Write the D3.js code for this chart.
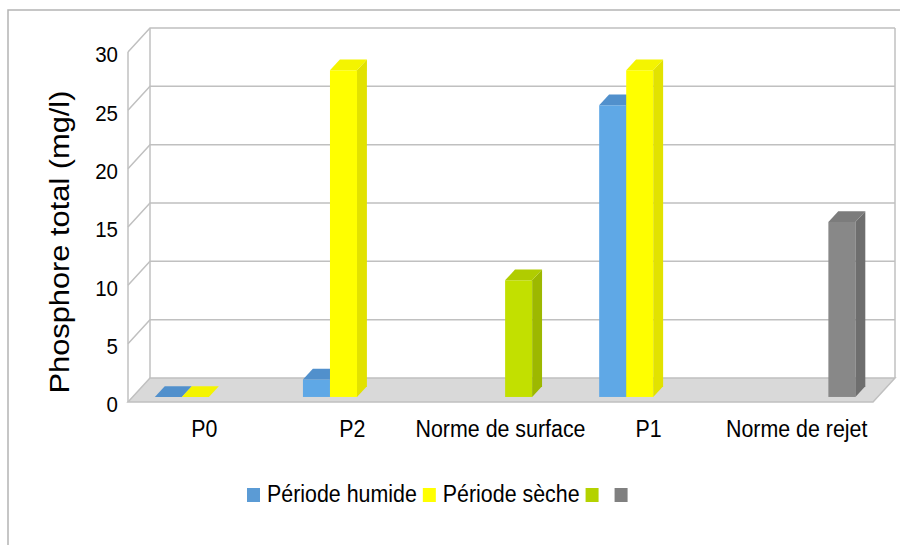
<!DOCTYPE html>
<html>
<head>
<meta charset="utf-8">
<script src="https://cdn.jsdelivr.net/npm/d3@7"></script>
<style>
  body { margin: 0; background: #fff; }
  svg text { font-family: "Liberation Sans", Arial, sans-serif; fill: #000; }
</style>
</head>
<body>
<div id="chart"></div>
<script>
let categories = ["P0", "P2", "Norme de surface", "P1", "Norme de rejet"];
let seriesNames = ["Période humide", "Période sèche", "", ""];
let humide = [0, 1.5, null, 25, null];
let seche = [0, 28, null, 28, null];
let normeSurface = [null, null, 10, null, null];
let normeRejet = [null, null, null, null, 15];
let yTicks = [0, 5, 10, 15, 20, 25, 30];

let seriesValues = [humide, seche, normeSurface, normeRejet];
let colors = [
    {front: "#5fa8e6", side: "#4b88c4", top: "#5190cc", legend: "#5b9bd5"},
    {front: "#ffff00", side: "#e2e200", top: "#f4f400", legend: "#ffff00"},
    {front: "#c2e000", side: "#9db800", top: "#b0cc00", legend: "#b4d200"},
    {front: "#888888", side: "#6e6e6e", top: "#7c7c7c", legend: "#808080"}
];

let width = 900, height = 545;
let depth = {x: 22, y: -24};
let barFront = 0.21, barBack = 0.66;
let stretch = 1.1;

let svg = d3.select("#chart").append("svg")
    .attr("width", width)
    .attr("height", height);

// outer frame
svg.append("path")
    .attr("d", "M8,545 L8,10 L900,10")
    .attr("fill", "none")
    .attr("stroke", "#b4b4b4")
    .attr("stroke-width", 1.5);

let x = d3.scaleBand().domain(categories)
    .range([128, 873])
    .paddingInner(0.27)
    .paddingOuter(0.15);
let xs = d3.scaleBand().domain(d3.range(4)).range([0, x.bandwidth()]);
let y = d3.scaleLinear().domain([0, 30]).range([402, 52]);

let x0 = x.range()[0], x1 = x.range()[1];
let gridColor = "#c0c0c0";

// floor
svg.append("polygon")
    .attr("points", [[x0, y(0)], [x1, y(0)], [x1 + depth.x, y(0) + depth.y], [x0 + depth.x, y(0) + depth.y]].join(" "))
    .attr("fill", "#d9d9d9")
    .attr("stroke", gridColor)
    .attr("stroke-width", 1.5);

// walls and gridlines
let grid = svg.append("g").attr("fill", "none").attr("stroke", gridColor).attr("stroke-width", 1.5);
yTicks.forEach(t => {
    if (t === 0) return;
    grid.append("path")
        .attr("d", "M" + x0 + "," + y(t) + " L" + (x0 + depth.x) + "," + (y(t) + depth.y) + " L" + (x1 + depth.x) + "," + (y(t) + depth.y));
});
grid.append("line").attr("x1", x0).attr("x2", x0).attr("y1", y(30)).attr("y2", y(0));
grid.append("line").attr("x1", x0 + depth.x).attr("x2", x0 + depth.x).attr("y1", y(30) + depth.y).attr("y2", y(0) + depth.y);
grid.append("line").attr("x1", x1 + depth.x).attr("x2", x1 + depth.x).attr("y1", y(30) + depth.y).attr("y2", y(0) + depth.y);

// bars
let bars = svg.append("g");
categories.forEach((c, ci) => {
    seriesValues.forEach((vals, si) => {
        let v = vals[ci];
        if (v === null) return;
        let bx = x(c) + xs(si) + depth.x * barFront;
        let bw = xs.bandwidth();
        let by0 = y(0) + depth.y * barFront;
        let by1 = y(v) + depth.y * barFront;
        let dx = depth.x * (barBack - barFront), dy = depth.y * (barBack - barFront);
        let col = colors[si];
        if (v > 0) {
            bars.append("rect")
                .attr("x", bx).attr("y", by1)
                .attr("width", bw).attr("height", by0 - by1)
                .attr("fill", col.front);
            bars.append("polygon")
                .attr("points", [[bx + bw, by0], [bx + bw, by1], [bx + bw + dx, by1 + dy], [bx + bw + dx, by0 + dy]].join(" "))
                .attr("fill", col.side);
        }
        bars.append("polygon")
            .attr("points", [[bx, by1], [bx + bw, by1], [bx + bw + dx, by1 + dy], [bx + dx, by1 + dy]].join(" "))
            .attr("fill", col.top);
    });
});

// y tick labels
svg.append("g").selectAll("text").data(yTicks).join("text")
    .attr("transform", d => "translate(118," + (y(d) + 3) + ") scale(1," + stretch + ")")
    .attr("text-anchor", "end")
    .attr("dominant-baseline", "central")
    .style("font-size", "20.5px")
    .text(d => d);

// category labels
svg.append("g").selectAll("text").data(categories).join("text")
    .attr("transform", d => "translate(" + (x(d) + x.bandwidth() / 2) + ",437) scale(1," + stretch + ")")
    .attr("text-anchor", "middle")
    .style("font-size", "21.4px")
    .text(d => d);

// y axis title
svg.append("text")
    .attr("transform", "translate(69,242) scale(1," + stretch + ") rotate(-90)")
    .attr("text-anchor", "middle")
    .style("font-size", "28px")
    .text("Phosphore total (mg/l)");

// legend
let legend = svg.append("g");
let lx = 247;
seriesNames.forEach((name, i) => {
    legend.append("rect")
        .attr("x", lx).attr("y", 488)
        .attr("width", 13).attr("height", 14)
        .attr("fill", colors[i].legend);
    lx += 13;
    if (name) {
        let t = legend.append("text")
            .attr("transform", "translate(" + (lx + 7) + ",502) scale(1," + stretch + ")")
            .style("font-size", "21.4px")
            .text(name);
        lx += 7 + t.node().getComputedTextLength() + 6;
    } else {
        lx += 16;
    }
});
</script>
</body>
</html>
